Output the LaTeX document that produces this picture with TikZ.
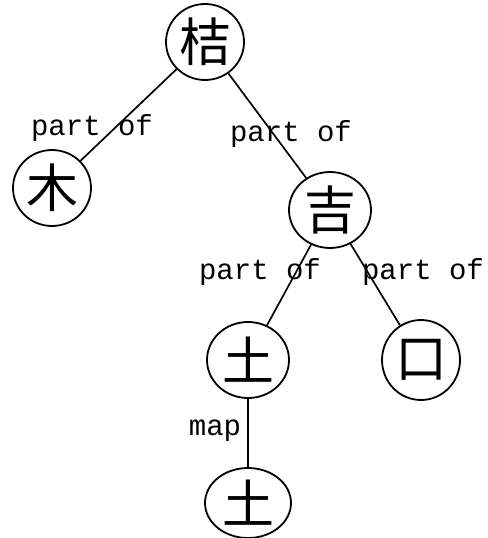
\documentclass[tikz,border=0pt]{standalone}
\usepackage{fontspec}
\usepackage{tikz}
\usetikzlibrary{positioning,shapes.geometric}
\newfontfamily\kanjifont{Noto Sans CJK JP}
\newfontfamily\labelfont{Liberation Mono}

\tikzset{
	kanji/.style={draw, ellipse, line width=1.8bp, inner sep=0pt, minimum width=78bp, minimum height=76bp, font=\kanjifont\fontsize{52bp}{52bp}\selectfont},
	rel/.style={font=\labelfont\fontsize{29bp}{29bp}\selectfont, inner sep=0pt},
	link/.style={line width=1.7bp}
}

\begin{document}
\begin{tikzpicture}[x=1bp,y=-1bp]
	\useasboundingbox (0,0) rectangle (488,538);
	% characters
	\node[kanji] (jie) at (205,42) {桔};
	\node[kanji] (mu) at (52,188) {木};
	\node[kanji, minimum width=82bp] (ji) at (330,210) {吉};
	\node[kanji, minimum width=82bp] (tu) at (248,360) {土};
	\node[kanji, minimum height=80bp] (kou) at (421,360) {口};
	\node[kanji, minimum width=86bp, minimum height=70bp] (tumap) at (248,503) {土};
	% relations
	\draw[link] (jie) -- (mu);
	\draw[link] (jie) -- (ji);
	\draw[link] (ji) -- (tu);
	\draw[link] (ji) -- (kou);
	\draw[link] (tu) -- (tumap);
	% labels
	\node[rel] (l1) at (92,128) {part of};
	\node[rel] (l2) at (291,134) {part of};
	\node[rel] (l3) at (260,272) {part of};
	\node[rel] (l4) at (423,272) {part of};
	\node[rel] (l5) at (215,431) {map};
\end{tikzpicture}
\end{document}
